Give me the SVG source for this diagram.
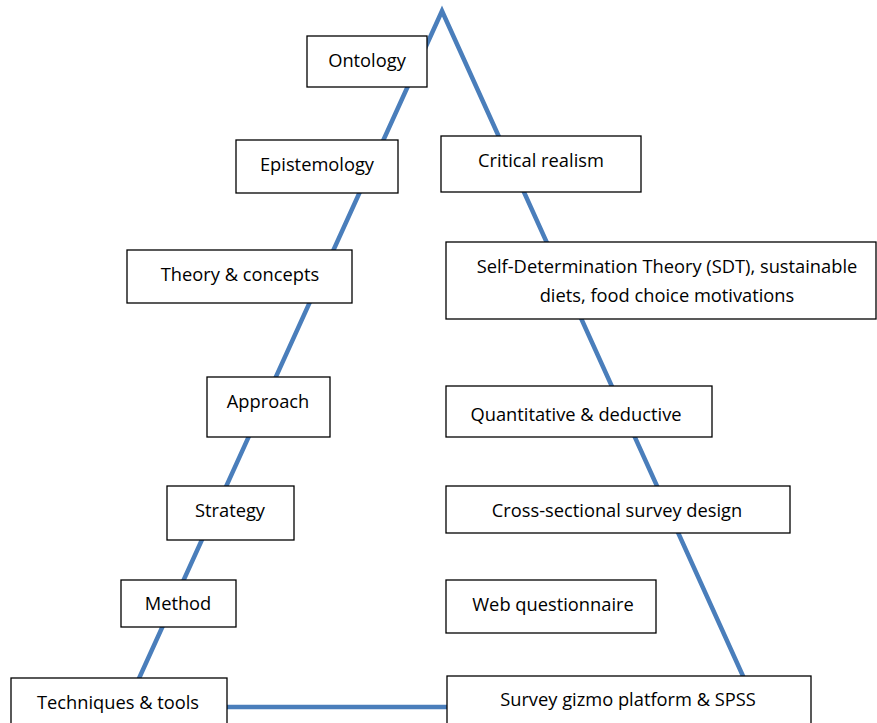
<svg xmlns="http://www.w3.org/2000/svg" width="877" height="723" viewBox="0 0 877 723">
<style>
.box{fill:#fff;stroke:#000;stroke-width:1.3}
.t{font-family:"Open Sans","Liberation Sans",sans-serif;font-size:18.3px;fill:#000;text-anchor:middle}
.ln{stroke:#4A7EBB;stroke-width:4.5;fill:none;stroke-linejoin:miter}
</style>
<rect width="877" height="723" fill="#fff"/>
<g id="connectors">
<polygon class="ln" points="442,11 126,707 757,707"/>
</g>
<g id="ontology"><rect class="box" x="307" y="36" width="120" height="51"/><text class="t" x="367" y="67">Ontology</text></g>
<g id="epistemology"><rect class="box" x="236" y="140" width="162" height="53"/><text class="t" x="317" y="171">Epistemology</text></g>
<g id="critical-realism"><rect class="box" x="441" y="136" width="200" height="56"/><text class="t" x="541" y="167">Critical realism</text></g>
<g id="theory"><rect class="box" x="127" y="250" width="225" height="53"/><text class="t" x="240" y="281">Theory &amp; concepts</text></g>
<g id="sdt"><rect class="box" x="446" y="242" width="430" height="77"/><text class="t" x="667" y="273">Self-Determination Theory (SDT), sustainable</text><text class="t" x="667" y="302">diets, food choice motivations</text></g>
<g id="approach"><rect class="box" x="207" y="377" width="123" height="60"/><text class="t" x="268" y="408">Approach</text></g>
<g id="quantitative"><rect class="box" x="446" y="386" width="266" height="51"/><text class="t" x="576" y="421">Quantitative &amp; deductive</text></g>
<g id="strategy"><rect class="box" x="167" y="486" width="127" height="54"/><text class="t" x="230" y="517">Strategy</text></g>
<g id="cross-sectional"><rect class="box" x="446" y="486" width="344" height="47"/><text class="t" x="617" y="517">Cross-sectional survey design</text></g>
<g id="method"><rect class="box" x="121" y="580" width="115" height="47"/><text class="t" x="178" y="610">Method</text></g>
<g id="web-questionnaire"><rect class="box" x="446" y="580" width="210" height="53"/><text class="t" x="553" y="611">Web questionnaire</text></g>
<g id="techniques"><rect class="box" x="11" y="678" width="216" height="60"/><text class="t" x="118" y="709">Techniques &amp; tools</text></g>
<g id="survey-gizmo"><rect class="box" x="447" y="676" width="364" height="60"/><text class="t" x="628" y="706">Survey gizmo platform &amp; SPSS</text></g>
</svg>
